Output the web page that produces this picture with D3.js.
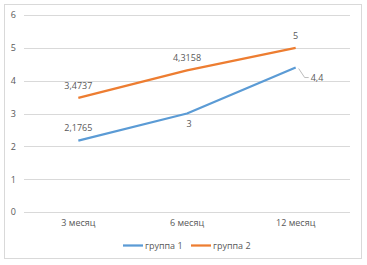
<!DOCTYPE html>
<html><head><meta charset="utf-8">
<script src="https://cdn.jsdelivr.net/npm/d3@7"></script>
<style>body{margin:0;background:#fff}svg{display:block}text{font-family:"Open Sans","Liberation Sans",sans-serif;fill:#595959}</style>
</head><body><svg id="c" width="367" height="265"></svg>
<script>
const categories = ["3 месяц", "6 месяц", "12 месяц"];
const group1 = [2.1765, 3, 4.4];
const group2 = [3.4737, 4.3158, 5];
const labels1 = ["2,1765", "3", "4,4"];
const labels2 = ["3,4737", "4,3158", "5"];
const seriesNames = ["группа 1", "группа 2"];
const yTicks = [0, 1, 2, 3, 4, 5, 6];
const colors = ["#5B9BD5", "#ED7D31"];

const svg = d3.select("#c");
svg.append("rect").attr("x", 4.5).attr("y", 4.5).attr("width", 357).attr("height", 254)
  .attr("fill", "#fff").attr("stroke", "#D9D9D9");

const x = d3.scaleBand().domain(categories).range([24, 350]);
const y = d3.scaleLinear().domain([0, 6]).range([212, 15]);
const cx = d => x(d) + x.bandwidth() / 2;

const g = svg.append("g");
g.selectAll("line.grid").data(yTicks).join("line").attr("class", "grid")
  .attr("x1", 24).attr("x2", 350).attr("y1", d => Math.round(y(d)) + 0.5).attr("y2", d => Math.round(y(d)) + 0.5)
  .attr("stroke", "#D9D9D9").attr("stroke-width", 1);

const yAxis = d3.axisLeft(y).tickValues(yTicks).tickFormat(d3.format("d")).tickSize(0).tickPadding(0);
svg.append("g").attr("transform", "translate(16,0)").call(yAxis)
  .call(s => s.select(".domain").remove())
  .selectAll("text").attr("font-size", 9).style("fill", "#595959");

const xAxis = d3.axisBottom(x).tickSize(0).tickPadding(0);
svg.append("g").attr("transform", "translate(0,220)").call(xAxis)
  .call(s => s.select(".domain").remove())
  .selectAll("text").attr("font-size", 9).style("fill", "#595959");

const line = d3.line().x((d, i) => cx(categories[i])).y(d => y(d));
[group1, group2].forEach((s, k) => {
  svg.append("path").datum(s).attr("d", line).attr("fill", "none")
    .attr("stroke", colors[k]).attr("stroke-width", 2.25).attr("stroke-linejoin", "round");
});

const fs = 9;
svg.selectAll("text.l2").data(group2).join("text").attr("class", "l2")
  .attr("x", (d, i) => cx(categories[i])).attr("y", d => y(d) - 9)
  .attr("text-anchor", "middle").attr("font-size", fs).text((d, i) => labels2[i]);
svg.append("text").attr("x", cx(categories[0])).attr("y", y(group1[0]) - 10)
  .attr("text-anchor", "middle").attr("font-size", fs).text(labels1[0]);
svg.append("text").attr("x", cx(categories[1]) + 2).attr("y", y(group1[1]) + 13)
  .attr("text-anchor", "middle").attr("font-size", fs).text(labels1[1]);
const p3x = cx(categories[2]), p3y = y(group1[2]);
svg.append("path").attr("d", `M${p3x + 3},${p3y + 1}L${p3x + 9},${p3y + 10}L${p3x + 13},${p3y + 10}`)
  .attr("fill", "none").attr("stroke", "#A6A6A6").attr("stroke-width", 0.75);
svg.append("text").attr("x", p3x + 15).attr("y", p3y + 13.5)
  .attr("font-size", fs).text(labels1[2]);

const lg = svg.append("g");
const lx = [123, 191];
seriesNames.forEach((n, k) => {
  lg.append("line").attr("x1", lx[k]).attr("x2", lx[k] + 20).attr("y1", 245.5).attr("y2", 245.5)
    .attr("stroke", colors[k]).attr("stroke-width", 2.25);
  lg.append("text").attr("x", lx[k] + 22).attr("y", 248.5).attr("font-size", fs).text(n);
});
</script></body></html>
